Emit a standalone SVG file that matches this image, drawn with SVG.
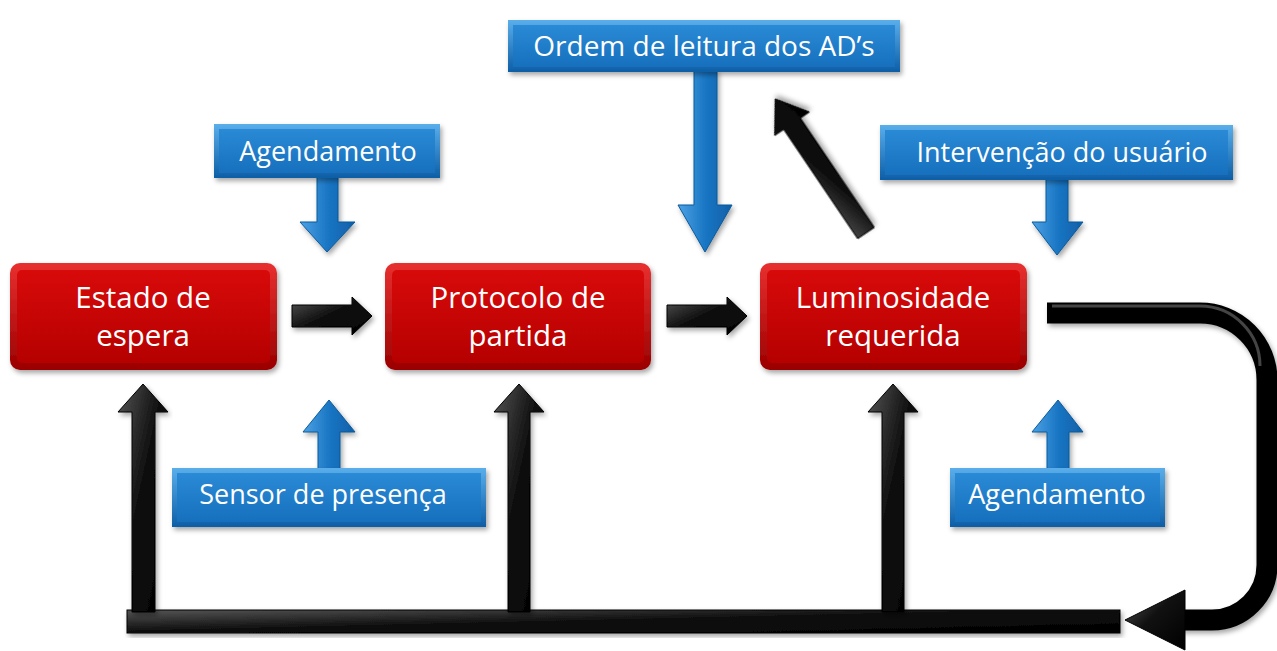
<svg xmlns="http://www.w3.org/2000/svg" width="1277" height="651" viewBox="0 0 1277 651">
<style>
.node text{font-family:"Open Sans","Noto Sans",sans-serif;fill:#fff;text-anchor:middle}
.rt{font-size:29.5px}
.bt{font-size:27px}
.blk{fill:url(#gBlk);stroke:#000;stroke-width:1}
.blu{fill:url(#gBluA);stroke:#0a5a9c;stroke-width:1}
</style>
<defs>
<linearGradient id="gRed" x1="0" y1="0" x2="0" y2="1"><stop offset="0" stop-color="#d80a0a"/><stop offset="1" stop-color="#b50000"/></linearGradient>
<linearGradient id="gRedEdge" x1="0" y1="0" x2="0" y2="1"><stop offset="0" stop-color="#e83030"/><stop offset="1" stop-color="#9a0000"/></linearGradient>
<linearGradient id="gBlu" x1="0" y1="0" x2="0" y2="1"><stop offset="0" stop-color="#2a8ad6"/><stop offset="1" stop-color="#1670bd"/></linearGradient>
<linearGradient id="gBluEdge" x1="0" y1="0" x2="0" y2="1"><stop offset="0" stop-color="#5aaeea"/><stop offset="1" stop-color="#0d5ea6"/></linearGradient>
<linearGradient id="gBluA" x1="0" y1="0" x2="1" y2="0"><stop offset="0" stop-color="#4da2e4"/><stop offset="0.5" stop-color="#1a76c4"/><stop offset="1" stop-color="#0f5fa8"/></linearGradient>
<linearGradient id="gBlk" x1="0" y1="0" x2="1" y2="1"><stop offset="0" stop-color="#555"/><stop offset="0.45" stop-color="#111"/><stop offset="1" stop-color="#000"/></linearGradient>
<filter id="sh" x="-10%" y="-10%" width="120%" height="130%"><feDropShadow dx="2" dy="3" stdDeviation="2.5" flood-color="#000" flood-opacity="0.35"/></filter>
</defs>
<rect width="1277" height="651" fill="#fff"/>

<g id="connectors">
 <polygon class="blk" filter="url(#sh)" points="292,305 352,305 352,297 372,316 352,335 352,327 292,327"/>
 <polygon class="blk" filter="url(#sh)" points="667,305 727,305 727,297 747,316 727,335 727,327 667,327"/>
 <polygon class="blk" filter="url(#sh)" transform="translate(866,233) rotate(-124.1)" points="0,-10 132,-10 132,-21 162,0 132,21 132,10 0,10"/>
 <path d="M1047,313 H1200 A67,67 0 0 1 1267,380 V565 A55,55 0 0 1 1212,620 H1180" fill="none" stroke="#000" stroke-width="21" filter="url(#sh)"/>
 <path d="M1052,306 H1200 A60,60 0 0 1 1260,366" fill="none" stroke="#444" stroke-width="3"/>
 <polygon class="blk" points="1185,590 1125,620 1185,650"/>
 <rect class="blk" filter="url(#sh)" x="127" y="610" width="993" height="23"/>
 <polygon class="blk" filter="url(#sh)" points="132,612 132,412 118,412 143,384 168,412 155,412 155,612"/>
 <polygon class="blk" filter="url(#sh)" points="508,612 508,412 494,412 519,384 544,412 530,412 530,612"/>
 <polygon class="blk" filter="url(#sh)" points="882,612 882,412 868,412 893,384 918,412 904,412 904,612"/>
 <polygon class="blu" filter="url(#sh)" points="317,176 338,176 338,222 355,222 327,252 300,222 317,222"/>
 <polygon class="blu" filter="url(#sh)" points="694,70 717,70 717,205 732,205 705,252 678,205 694,205"/>
 <polygon class="blu" filter="url(#sh)" points="1046,178 1068,178 1068,222 1083,222 1057,255 1032,222 1046,222"/>
 <polygon class="blu" filter="url(#sh)" points="318,470 318,432 303,432 329,400 355,432 340,432 340,470"/>
 <polygon class="blu" filter="url(#sh)" points="1047,470 1047,432 1032,432 1058,400 1083,432 1069,432 1069,470"/>
</g>

<g id="n-estado" class="node">
 <rect x="10" y="263" width="267" height="107" rx="10" fill="url(#gRedEdge)" filter="url(#sh)"/>
 <rect x="17" y="270" width="253" height="93" rx="5" fill="url(#gRed)"/>
 <text class="rt" x="143" y="308">Estado de</text>
 <text class="rt" x="143" y="346">espera</text>
</g>
<g id="n-protocolo" class="node">
 <rect x="385" y="263" width="266" height="107" rx="10" fill="url(#gRedEdge)" filter="url(#sh)"/>
 <rect x="392" y="270" width="252" height="93" rx="5" fill="url(#gRed)"/>
 <text class="rt" x="518" y="308">Protocolo de</text>
 <text class="rt" x="518" y="346">partida</text>
</g>
<g id="n-luminosidade" class="node">
 <rect x="760" y="263" width="267" height="107" rx="10" fill="url(#gRedEdge)" filter="url(#sh)"/>
 <rect x="767" y="270" width="253" height="93" rx="5" fill="url(#gRed)"/>
 <text class="rt" x="893" y="308">Luminosidade</text>
 <text class="rt" x="893" y="346">requerida</text>
</g>

<g id="n-agendamento1" class="node">
 <rect x="214" y="124" width="226" height="54" fill="url(#gBluEdge)" filter="url(#sh)"/>
 <rect x="219" y="129" width="216" height="44" fill="url(#gBlu)"/>
 <text class="bt" x="328" y="161">Agendamento</text>
</g>
<g id="n-ordem" class="node">
 <rect x="508" y="20" width="392" height="52" fill="url(#gBluEdge)" filter="url(#sh)"/>
 <rect x="513" y="25" width="382" height="42" fill="url(#gBlu)"/>
 <text class="bt" x="704" y="56" style="font-size:28px">Ordem de leitura dos AD’s</text>
</g>
<g id="n-intervencao" class="node">
 <rect x="880" y="125" width="353" height="55" fill="url(#gBluEdge)" filter="url(#sh)"/>
 <rect x="885" y="130" width="343" height="45" fill="url(#gBlu)"/>
 <text class="bt" x="1062" y="162">Intervenção do usuário</text>
</g>
<g id="n-sensor" class="node">
 <rect x="172" y="468" width="314" height="59" fill="url(#gBluEdge)" filter="url(#sh)"/>
 <rect x="177" y="473" width="304" height="49" fill="url(#gBlu)"/>
 <text class="bt" x="323" y="504">Sensor de presença</text>
</g>
<g id="n-agendamento2" class="node">
 <rect x="950" y="468" width="215" height="59" fill="url(#gBluEdge)" filter="url(#sh)"/>
 <rect x="955" y="473" width="205" height="49" fill="url(#gBlu)"/>
 <text class="bt" x="1057" y="504">Agendamento</text>
</g>
</svg>
